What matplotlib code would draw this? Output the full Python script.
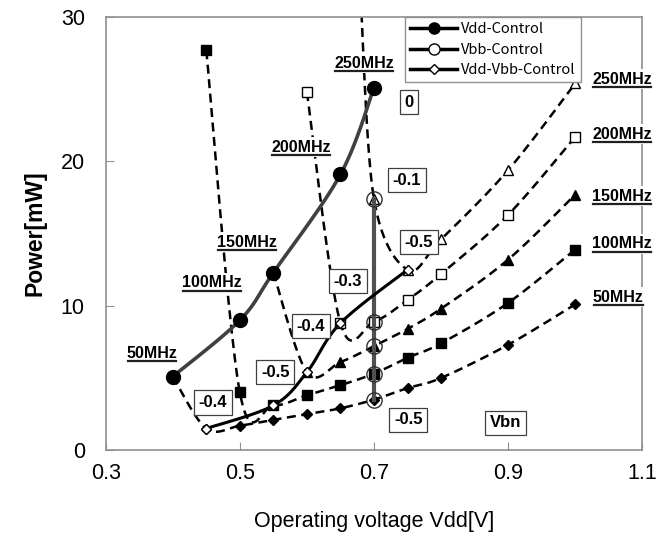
import numpy as np
import matplotlib
matplotlib.use("Agg")
import matplotlib.pyplot as plt
from matplotlib.lines import Line2D

plt.rcParams['font.family'] = ['Liberation Sans', 'DejaVu Sans']

# frequency curves (dashed)
x50 = [0.4, 0.45, 0.5, 0.55, 0.6, 0.65, 0.7, 0.75, 0.8, 0.9, 1.0]
y50 = [5.1, 1.5, 1.7, 2.1, 2.5, 2.9, 3.5, 4.3, 5.0, 7.3, 10.1]
x100 = [0.45, 0.5, 0.55, 0.6, 0.65, 0.7, 0.75, 0.8, 0.9, 1.0]
y100 = [27.7, 4.0, 3.1, 3.8, 4.5, 5.3, 6.4, 7.4, 10.2, 13.9]
x150 = [0.55, 0.6, 0.65, 0.7, 0.75, 0.8, 0.9, 1.0]
y150 = [12.3, 5.4, 6.1, 7.2, 8.4, 9.8, 13.2, 17.7]
x200 = [0.6, 0.65, 0.7, 0.75, 0.8, 0.9, 1.0]
y200 = [24.8, 8.8, 8.9, 10.4, 12.2, 16.3, 21.7]
x250 = [0.68, 0.7, 0.75, 0.8, 0.9, 1.0]
y250 = [31.5, 17.4, 12.5, 14.6, 19.4, 25.4]

# control schemes (solid)
vdd_x = [0.4, 0.5, 0.55, 0.65, 0.7]
vdd_y = [5.1, 9.0, 12.3, 19.1, 25.1]
vbb_x = [0.7, 0.7, 0.7, 0.7, 0.7]
vbb_y = [3.5, 5.3, 7.2, 8.9, 17.4]
vddvbb_x = [0.45, 0.55, 0.6, 0.65, 0.75]
vddvbb_y = [1.5, 3.1, 5.4, 8.8, 12.5]

# Vbb value boxes
box_text = ['0', '-0.1', '-0.5', '-0.3', '-0.4', '-0.5', '-0.4', '-0.5', 'Vbn']
box_x = [0.752, 0.749, 0.767, 0.661, 0.606, 0.553, 0.46, 0.751, 0.896]
box_y = [24.1, 18.7, 14.4, 11.7, 8.6, 5.4, 3.3, 2.1, 1.9]

# frequency labels
flab_text = ['50MHz', '100MHz', '150MHz', '200MHz', '250MHz',
             '250MHz', '200MHz', '150MHz', '100MHz', '50MHz']
flab_x = [0.369, 0.459, 0.511, 0.591, 0.685, 1.07, 1.07, 1.07, 1.07, 1.064]
flab_y = [6.7, 11.6, 14.4, 21.0, 26.8, 25.7, 21.9, 17.6, 14.3, 10.6]


def smooth(xs, ys, n=24):
    # Excel-like smoothed line (Catmull-Rom between the points)
    p = np.column_stack([xs, ys]).astype(float)
    p = np.vstack([p[0], p, p[-1]])
    out = []
    for i in range(1, len(p) - 2):
        p0, p1, p2, p3 = p[i - 1], p[i], p[i + 1], p[i + 2]
        t = np.linspace(0, 1, n)[:, None]
        seg = 0.5 * ((2 * p1) + (-p0 + p2) * t + (2 * p0 - 5 * p1 + 4 * p2 - p3) * t ** 2
                     + (-p0 + 3 * p1 - 3 * p2 + p3) * t ** 3)
        out.append(seg)
    out = np.vstack(out)
    return out[:, 0], out[:, 1]


fig = plt.figure(figsize=(6.69, 5.34), dpi=100)
ax = fig.add_axes([0.158, 0.157, 0.802, 0.811])

dash = dict(color='black', lw=1.8, dashes=(3.6, 2.2))
series = [(x50, y50, 'D', 'black', 5),
          (x100, y100, 's', 'black', 7),
          (x150, y150, '^', 'black', 7.5),
          (x200, y200, 's', 'white', 7),
          (x250, y250, '^', 'white', 7.5)]
for xs, ys, m, fc, ms in series:
    sx, sy = smooth(xs, ys)
    ax.plot(sx, sy, zorder=2, **dash)
    ax.plot(xs, ys, ls='none', marker=m, mfc=fc, mec='black', mew=1.0, ms=ms, zorder=3)

# Vdd-Control
sx, sy = smooth(vdd_x, vdd_y)
ax.plot(sx, sy, color='#404040', lw=2.6, zorder=4)
ax.plot(vdd_x, vdd_y, ls='none', marker='o', mfc='black', mec='black', ms=10, zorder=5)
# Vbb-Control
ax.plot(vbb_x, vbb_y, color='#505050', lw=3, zorder=4)
ax.plot(vbb_x, vbb_y, ls='none', marker='o', mfc='none', mec='#303030', mew=1.0, ms=11, zorder=5)
# Vdd-Vbb-Control
sx, sy = smooth(vddvbb_x, vddvbb_y)
ax.plot(sx, sy, color='black', lw=2.2, zorder=4)
ax.plot(vddvbb_x, vddvbb_y, ls='none', marker='D', mfc='white', mec='black', mew=1.0, ms=5, zorder=5)

for t, x, y in zip(box_text, box_x, box_y):
    ax.text(x, y, t, ha='center', va='center', fontsize=12, fontweight='bold', zorder=6,
            bbox=dict(boxstyle='square,pad=0.28', fc='white', ec='#404040', lw=0.9))

flabels = []
for t, x, y in zip(flab_text, flab_x, flab_y):
    tx = ax.text(x, y, t, ha='center', va='center', fontsize=11.5, fontweight='bold',
                 zorder=6, clip_on=False,
                 bbox=dict(boxstyle='square,pad=0.15', fc='white', ec='none'))
    flabels.append(tx)

ax.set_xlim(0.3, 1.1)
ax.set_ylim(0, 30)
ax.set_xticks([0.3, 0.5, 0.7, 0.9, 1.1])
ax.set_xticklabels(['0.3', '0.5', '0.7', '0.9', '1.1'])
ax.set_yticks([0, 10, 20, 30])
ax.tick_params(direction='in', length=6, color='#909090', labelsize=15.5)
ax.tick_params(axis='x', pad=9)
ax.tick_params(axis='y', pad=15)
for s in ax.spines.values():
    s.set_color('#909090')
    s.set_linewidth(1.2)
ax.set_xlabel('Operating voltage Vdd[V]', fontsize=15.5, labelpad=20)
ax.set_ylabel('Power[mW]', fontsize=16.5, fontweight='bold', labelpad=10)

handles = [Line2D([], [], color='black', lw=2.5, marker='o', mfc='black', ms=8),
           Line2D([], [], color='black', lw=2.5, marker='o', mfc='white', ms=8),
           Line2D([], [], color='black', lw=2.5, marker='D', mfc='white', ms=5)]
leg = ax.legend(handles, ['Vdd-Control', 'Vbb-Control', 'Vdd-Vbb-Control'],
                loc='upper left', bbox_to_anchor=(0.558, 1.0),
                prop={'family': ['Noto Sans CJK JP', 'DejaVu Sans'], 'size': 10.5},
                frameon=True, fancybox=False, edgecolor='#909090', framealpha=1,
                handlelength=3.2, handletextpad=0.3, labelspacing=0.45,
                borderpad=0.35, borderaxespad=0)
leg.get_frame().set_linewidth(1.0)
leg.set_zorder(7)

# underline the frequency labels
fig.canvas.draw()
r = fig.canvas.get_renderer()
inv = fig.transFigure.inverted()
for tx in flabels:
    bb = tx.get_window_extent(r)
    (x0, y0), (x1, _) = inv.transform([(bb.x0 + 1, bb.y0 - 0.5), (bb.x1 - 1, bb.y0 - 0.5)])
    fig.add_artist(Line2D([x0, x1], [y0, y0], color='#202020', lw=1.6, zorder=8))

fig.savefig('out.png', dpi=100)
